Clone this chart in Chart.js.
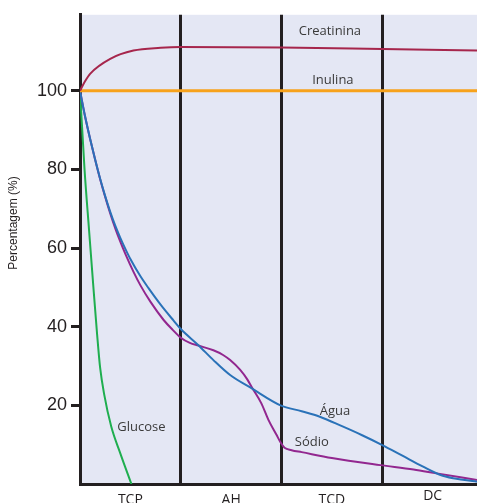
<!DOCTYPE html>
<html>
<head>
<meta charset="utf-8">
<script src="https://cdn.jsdelivr.net/npm/chart.js@4/dist/chart.umd.min.js"></script>
<style>
html,body{margin:0;padding:0;background:#ffffff;}
#wrap{width:477px;height:503px;}
</style>
</head>
<body>
<div id="wrap"><canvas id="c" width="477" height="503"></canvas></div>
<script>
// ---- data ----
const stages = ['TCP', 'AH', 'TCD', 'DC'];
const yTicks = [20, 40, 60, 80, 100];
const yTitle = 'Percentagem (%)';
const creatinina = [[0,100],[0.05,102.4],[0.1,104.3],[0.3,108.1],[0.53,110.2],[0.8,110.9],[1.0,111.1],[2.0,111.0],[3.0,110.6],[3.94,110.2]];
const inulina = [[0,100],[3.94,100]];
const agua = [[0,100],[0.05,93.5],[0.1,87.8],[0.15,82.5],[0.2,77.6],[0.25,73.2],[0.3,69.2],[0.35,65.7],[0.4,62.6],[0.45,59.8],[0.5,57.2],[0.6,52.8],[0.68,49.8],[0.8,45.6],[0.927,41.6],[1.0,39.4],[1.175,35.3],[1.324,31.5],[1.49,27.7],[1.705,24.3],[1.99,20],[2.2,18.5],[2.38,17.1],[2.6,14.7],[2.8,12.4],[3.0,9.9],[3.2,7.2],[3.4,4.5],[3.6,2.1],[3.8,1.1],[3.94,0.6]];
const sodio = [[0,100],[0.05,93.5],[0.1,87.8],[0.15,82.5],[0.2,77.5],[0.25,73],[0.3,68.8],[0.35,65],[0.4,61.6],[0.45,58.5],[0.53,54],[0.6,50.5],[0.7,46.3],[0.83,41.7],[0.92,39.2],[1.0,37.2],[1.09,35.9],[1.175,35.2],[1.324,34.0],[1.42,32.8],[1.49,31.5],[1.59,29],[1.66,26.6],[1.705,24.6],[1.8,20.5],[1.87,16.3],[1.95,12.5],[1.99,10.6],[2.03,9.2],[2.1,8.6],[2.2,8.1],[2.5,6.6],[2.98,4.8],[3.31,3.7],[3.54,2.7],[3.94,1]];
const glucose = [[0,100],[0.045,80],[0.09,64.5],[0.13,51],[0.17,38],[0.2,29.5],[0.24,22.8],[0.31,14.6],[0.4,7.8],[0.51,0]];
const seriesLabels = [
  {text:'Creatinina', x:2.48, y:115.0},
  {text:'Inulina', x:2.51, y:102.6},
  {text:'Água', x:2.53, y:18.5},
  {text:'Sódio', x:2.30, y:10.7},
  {text:'Glucose', x:0.61, y:14.5}
];

const pts = a => a.map(p => ({x:p[0], y:p[1]}));
const DARK = '#231f20';

const bgPlugin = {
  id:'bg',
  beforeDraw(chart){
    const {ctx, chartArea:a} = chart;
    ctx.save();
    ctx.fillStyle = '#e4e7f4';
    ctx.fillRect(a.left, a.top, a.right - a.left, a.bottom - a.top);
    ctx.restore();
  }
};

const textPlugin = {
  id:'texts',
  afterDraw(chart){
    const {ctx} = chart;
    const xs = chart.scales.x, ys = chart.scales.y;
    ctx.save();
    ctx.font = '13px "Open Sans"';
    ctx.fillStyle = '#3a3a3a';
    ctx.textAlign = 'center';
    ctx.textBaseline = 'middle';
    seriesLabels.forEach(l => ctx.fillText(l.text, xs.getPixelForValue(l.x), ys.getPixelForValue(l.y)));
    ctx.font = '14px "Open Sans"';
    ctx.fillStyle = DARK;
    ctx.textBaseline = 'alphabetic';
    stages.forEach((s, i) => {
      const base = (i === stages.length - 1) ? 500 : 504;
      ctx.fillText(s, xs.getPixelForValue(i + 0.5), base);
    });
    ctx.font = '12px "Liberation Sans"';
    ctx.translate(17, 223);
    ctx.rotate(-Math.PI/2);
    ctx.fillText(yTitle, 0, 0);
    ctx.restore();
  }
};

const ds = (data, color, w) => ({
  data: pts(data), borderColor: color, borderWidth: w, pointRadius: 0,
  cubicInterpolationMode: 'monotone', fill: false
});

new Chart(document.getElementById('c'), {
  type: 'line',
  data: {
    datasets: [
      ds(creatinina, '#a6264c', 2),
      ds(inulina, '#f7a21b', 3),
      ds(agua, '#2a72b8', 2),
      ds(sodio, '#92278f', 2),
      ds(glucose, '#1fae4f', 2)
    ]
  },
  options: {
    responsive: false,
    animation: false,
    devicePixelRatio: 1,
    layout: {padding: {top: 14, right: 0, left: 0, bottom: 0}},
    plugins: {legend: {display: false}, tooltip: {enabled: false}},
    scales: {
      x: {
        type: 'linear', min: 0, max: 3.94,
        ticks: {display: false, stepSize: 1, includeBounds: false},
        grid: {color: DARK, lineWidth: 3, drawTicks: false},
        border: {display: true, color: DARK, width: 3},
        afterFit(s){ s.height = 19; }
      },
      y: {
        min: 0, max: 119.3,
        afterBuildTicks(s){ s.ticks = yTicks.map(v => ({value: v})); },
        ticks: {color: DARK, font: {family: '"Liberation Sans"', size: 18}, padding: 4},
        grid: {drawOnChartArea: false, drawTicks: true, tickLength: 9, tickWidth: 3, tickColor: DARK},
        border: {display: true, color: DARK, width: 3},
        afterFit(s){ s.width = 80; }
      }
    }
  },
  plugins: [bgPlugin, textPlugin]
});
</script>
</body>
</html>
